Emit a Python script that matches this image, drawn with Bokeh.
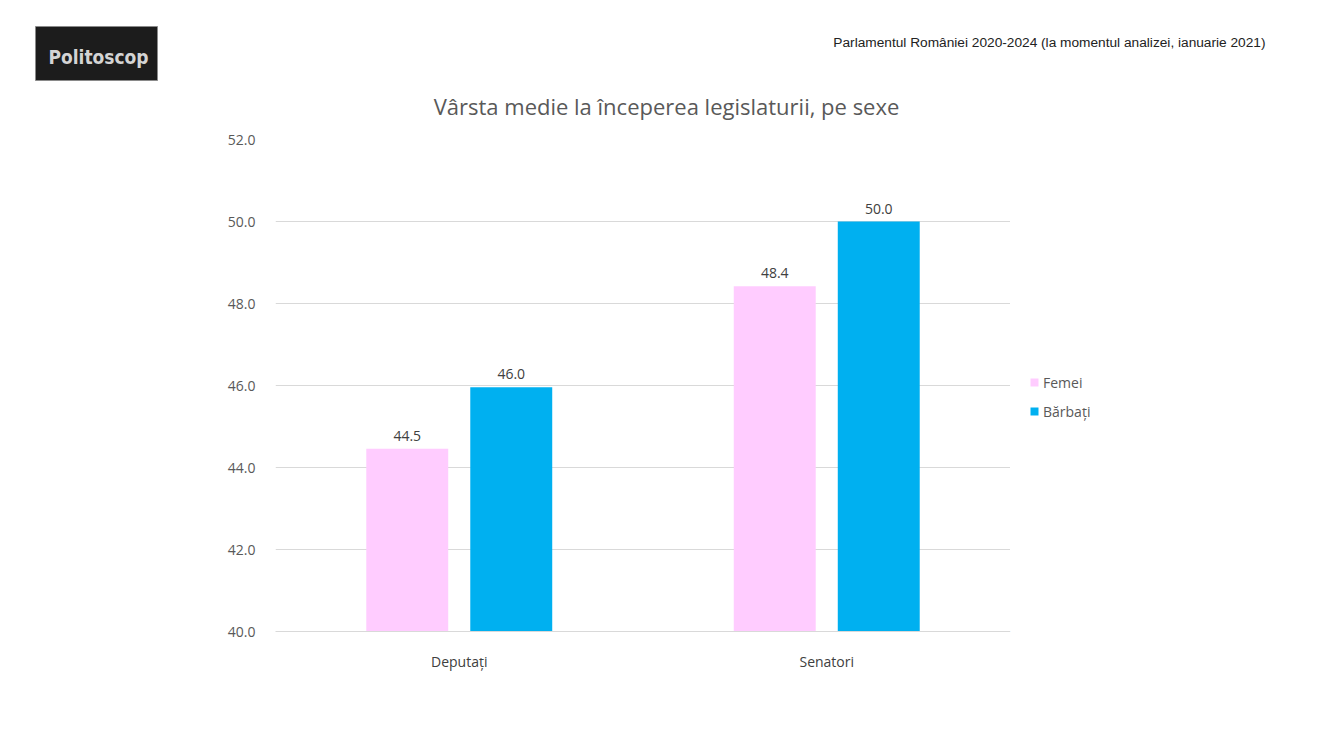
from bokeh.plotting import figure
from bokeh.layouts import row
from bokeh.models import FactorRange, Range1d, Legend, LegendItem, SingleIntervalTicker, NumeralTickFormatter, ColumnDataSource
from bokeh.transform import dodge
from bokeh.core.properties import value
from bokeh.embed import file_html
from bokeh.resources import INLINE

categories = ["Deputați", "Senatori"]
series_names = ["Femei", "Bărbați"]
femei = [44.46, 48.42]
barbati = [45.96, 50.0]
title_text = "Vârsta medie la începerea legislaturii, pe sexe"
header_text = "Parlamentul României 2020-2024 (la momentul analizei, ianuarie 2021)"
logo_text = "Politoscop"

FONT = "Open Sans"
GRAY = "#595959"
COL_F = "#FFCCFF"
COL_B = "#00B0F0"
W = 1320
HEAD_H = 120
MAIN_H = 620
FRAME_L, FRAME_R, FRAME_T, FRAME_B = 275, 1010, 139, 631

# ---------- header strip (logo, source note, title) ----------
h = figure(width=W, height=HEAD_H, x_range=Range1d(0, W), y_range=Range1d(HEAD_H, 0),
           output_backend="svg", toolbar_location=None, x_axis_location=None, y_axis_location=None,
           min_border=0)
h.outline_line_color = None
h.xgrid.visible = False
h.ygrid.visible = False
h.quad(left=[35], right=[157], top=[26], bottom=[80], fill_color="#1c1c1c", line_color="#8a8a8a", line_width=1)
h.text(x=[98], y=[56], text=[logo_text], text_align="center", text_baseline="middle",
       text_font=value("DejaVu Sans Condensed"), text_font_size="19px", text_color="#d4d4d4",
       text_font_style="bold")
h.text(x=[1265], y=[42], text=[header_text], text_align="right", text_baseline="middle",
       text_font=value("Liberation Sans"), text_font_size="13.7px", text_color="#222222")
h.text(x=[666], y=[105], text=[title_text], text_align="center", text_baseline="middle",
       text_font=value(FONT), text_font_size="22px", text_color=GRAY)

# ---------- main chart ----------
src = ColumnDataSource(dict(
    cat=categories, femei=femei, barbati=barbati,
    lf=[f"{v:.1f}" for v in femei], lb=[f"{v:.1f}" for v in barbati],
))

p = figure(width=FRAME_R, height=MAIN_H, x_range=FactorRange(*categories), y_range=Range1d(40, 52),
           output_backend="svg", toolbar_location=None,
           min_border_left=FRAME_L, min_border_right=0, min_border_top=FRAME_T - HEAD_H,
           min_border_bottom=HEAD_H + MAIN_H - FRAME_B)
p.outline_line_color = None

off = 0.1415
bw = 0.223
p.vbar(x=dodge("cat", -off, range=p.x_range), top="femei", bottom=40, width=bw, source=src,
       fill_color=COL_F, line_color=None)
p.vbar(x=dodge("cat", off, range=p.x_range), top="barbati", bottom=40, width=bw, source=src,
       fill_color=COL_B, line_color=None)

for col, lab, dx in (("femei", "lf", -off), ("barbati", "lb", off)):
    p.text(x=dodge("cat", dx, range=p.x_range), y=col, text=lab, source=src, y_offset=-8,
           text_align="center", text_baseline="bottom", text_font=value(FONT), text_font_size="14px",
           text_color="#404040")

p.yaxis.ticker = SingleIntervalTicker(interval=2)
p.yaxis.formatter = NumeralTickFormatter(format="0.0")
p.yaxis.axis_line_color = None
p.yaxis.major_tick_line_color = None
p.yaxis.minor_tick_line_color = None
p.yaxis.major_label_text_font = FONT
p.yaxis.major_label_text_font_size = "14px"
p.yaxis.major_label_text_color = GRAY
p.yaxis.major_label_standoff = 14

p.xaxis.axis_line_color = "#d9d9d9"
p.xaxis.major_tick_line_color = None
p.xaxis.minor_tick_line_color = None
p.xaxis.major_label_text_font = FONT
p.xaxis.major_label_text_font_size = "14px"
p.xaxis.major_label_text_color = "#404040"
p.xaxis.major_label_standoff = 14

p.xgrid.grid_line_color = None
p.ygrid.grid_line_color = "#d9d9d9"

# ---------- legend strip to the right of the chart ----------
lg = figure(width=W - FRAME_R, height=MAIN_H, x_range=Range1d(0, 1), y_range=Range1d(0, 1),
            output_backend="svg", toolbar_location=None, x_axis_location=None, y_axis_location=None,
            min_border_left=0, min_border_right=0, min_border_top=FRAME_T - HEAD_H,
            min_border_bottom=HEAD_H + MAIN_H - FRAME_B)
lg.outline_line_color = None
lg.xgrid.visible = False
lg.ygrid.visible = False
# legend proxies: one point each, placed outside the strip's visible range so only the swatch shows
sw_f = lg.vbar(x=[-5], top=[-5], bottom=-6, width=0.1, fill_color=COL_F, line_color=None)
sw_b = lg.vbar(x=[-5], top=[-5], bottom=-6, width=0.1, fill_color=COL_B, line_color=None)
legend = Legend(items=[LegendItem(label=series_names[0], renderers=[sw_f]),
                       LegendItem(label=series_names[1], renderers=[sw_b])],
                location=(19, 210), orientation="vertical",
                background_fill_alpha=0, border_line_color=None,
                label_text_font=FONT, label_text_font_size="14px", label_text_color=GRAY,
                glyph_width=10, glyph_height=10, label_height=20, spacing=9, padding=4, margin=0,
                label_standoff=4)
lg.add_layout(legend, "center")

body = row(p, lg, spacing=0)
open("out.html", "w").write(file_html([h, body], INLINE))
